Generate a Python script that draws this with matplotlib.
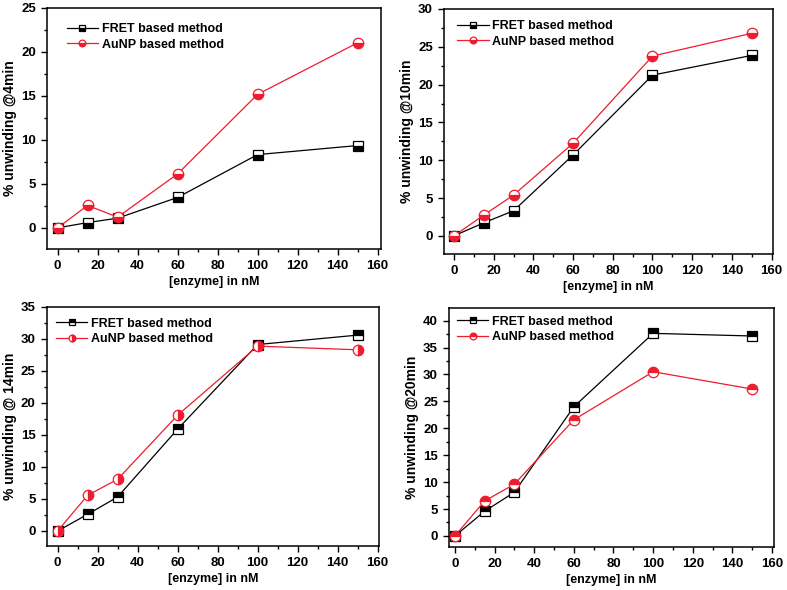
import matplotlib
matplotlib.use("Agg")
import matplotlib.pyplot as plt
from matplotlib.ticker import MultipleLocator

plt.rcParams['font.family'] = ['Liberation Sans', 'DejaVu Sans']
plt.rcParams['font.weight'] = 'bold'

enzyme = [0, 15, 30, 60, 100, 150]

fret_4 = [0, 0.6, 1.1, 3.46, 8.33, 9.36]
aunp_4 = [0, 2.55, 1.22, 6.13, 15.18, 21.04]

fret_10 = [0, 1.72, 3.31, 10.69, 21.25, 23.86]
aunp_10 = [0, 2.74, 5.39, 12.24, 23.77, 26.78]

fret_14 = [0, 2.6, 5.31, 15.9, 29.1, 30.57]
aunp_14 = [0, 5.57, 8.07, 18.07, 28.85, 28.28]

fret_20 = [0, 4.59, 8.12, 24.0, 37.64, 37.15]
aunp_20 = [0, 6.51, 9.61, 21.58, 30.51, 27.29]

ylabels = ["% unwinding @4min", "% unwinding @10min",
           "% unwinding @ 14min", "% unwinding @20min"]

red = '#ee1c2e'

panels = [
    # rect, fret, aunp, ylim, xlim, fillstyles, legend anchor
    ([0.0597, 0.578, 0.4244, 0.4085], fret_4, aunp_4, (-2.4, 25), (-5.3, 161.7), 'bottom', 'bottom', (0.036, 0.969)),
    ([0.5642, 0.5695, 0.418, 0.4153], fret_10, aunp_10, (-2.4, 30), (-5, 160.7), 'bottom', 'bottom', (0.018, 0.986)),
    ([0.0593, 0.0751, 0.4222, 0.405], fret_14, aunp_14, (-2.3, 35), (-5.5, 160.7), 'top', 'right', (0.006, 0.986)),
    ([0.5705, 0.0734, 0.413, 0.405], fret_20, aunp_20, (-2.0, 42.4), (-3, 161), 'top', 'top', (0.002, 0.998)),
]

fig = plt.figure(figsize=(7.87, 5.90), dpi=100)

for i, (rect, fret, aunp, ylim, xlim, fs_f, fs_a, anchor) in enumerate(panels):
    ax = fig.add_axes(rect)
    ax.plot(enzyme, fret, color='black', lw=0.9, marker='s', ms=7,
            fillstyle=fs_f, markerfacecolor='black', markerfacecoloralt='white',
            markeredgecolor='black', markeredgewidth=0.9, label='FRET based method')
    ax.plot(enzyme, aunp, color=red, lw=0.9, marker='o', ms=7.5,
            fillstyle=fs_a, markerfacecolor=red, markerfacecoloralt='white',
            markeredgecolor=red, markeredgewidth=0.9, label='AuNP based method')
    ax.set_xlim(*xlim)
    ax.set_ylim(*ylim)
    ax.xaxis.set_major_locator(MultipleLocator(20))
    ax.xaxis.set_minor_locator(MultipleLocator(10))
    ax.yaxis.set_major_locator(MultipleLocator(5))
    ax.yaxis.set_minor_locator(MultipleLocator(2.5))
    ax.tick_params(which='both', direction='out', top=False, right=False,
                   labelsize=9.5, width=1)
    ax.tick_params(which='major', length=4.5)
    ax.tick_params(which='minor', length=2.5)
    for lab in ax.get_xticklabels() + ax.get_yticklabels():
        lab.set_fontweight('bold')
    for sp in ax.spines.values():
        sp.set_linewidth(1.1)
    ax.set_xlabel("[enzyme] in nM", fontsize=9, fontweight='bold', labelpad=3)
    ax.set_ylabel(ylabels[i], fontsize=10, fontweight='bold', labelpad=3)
    ax.legend(loc='upper left', bbox_to_anchor=anchor, frameon=False,
              handlelength=2.5, handletextpad=0.3,
              labelspacing=0.3, markerscale=0.65, borderaxespad=0.2,
              prop={'weight': 'bold', 'size': 9})

fig.savefig("out.png", dpi=100)
